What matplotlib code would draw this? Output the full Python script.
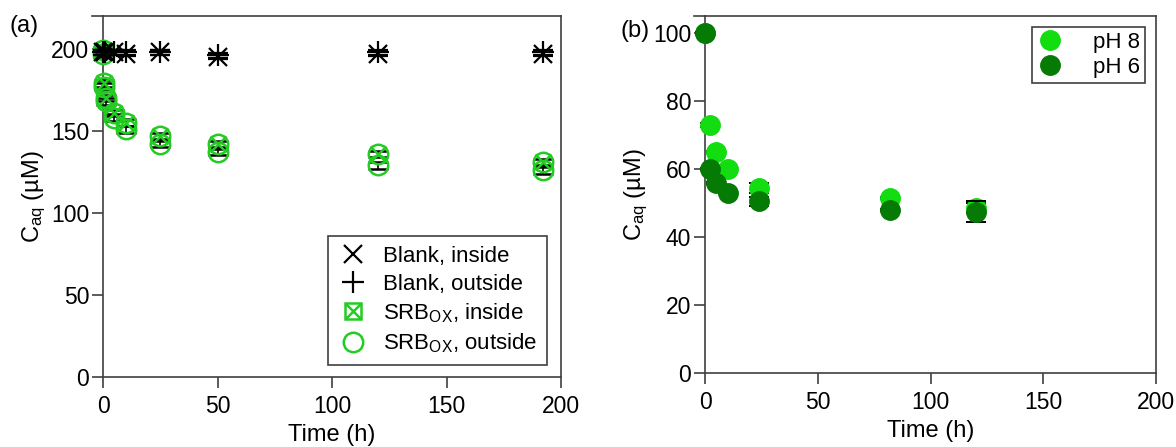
import matplotlib
matplotlib.use('Agg')
import matplotlib.pyplot as plt
from matplotlib.legend_handler import HandlerTuple
from matplotlib.lines import Line2D

plt.rcParams['font.family'] = ['Liberation Sans', 'DejaVu Sans']
plt.rcParams['mathtext.fontset'] = 'custom'
plt.rcParams['mathtext.rm'] = 'Liberation Sans'
plt.rcParams['mathtext.it'] = 'Liberation Sans:italic'
plt.rcParams['font.size'] = 16

# panel (a) data
t_blank = [0, 1, 5, 10, 25, 50, 120, 192]
blank_in = [198, 198, 198, 197, 198, 195, 197, 197]
blank_in_err = [1.5, 1.5, 1.5, 1.5, 1.5, 1.5, 1.5, 1.5]
blank_out = [198, 198, 198, 198, 198, 196, 198, 198]
blank_out_err = [1.5, 1.5, 1.5, 1.5, 1.5, 1.5, 1.5, 1.5]

t_srb = [0, 0.5, 1.5, 5, 10, 25, 50, 120, 192]
srb_in = [199, 179, 170, 161, 155, 147, 142, 136, 131]
srb_in_err = [2, 2, 2, 2, 2, 2, 2, 2, 2]
srb_out = [197, 177, 168, 158, 151, 142, 137, 129, 126]
srb_out_err = [2, 2, 2, 2, 2, 2, 2, 2, 2]

# panel (b) data
t_ph = [0, 2, 5, 10, 24, 82, 120]
ph8 = [100, 73, 65, 60, 54.5, 51.5, 48.5]
ph8_err = [0.4, 0.5, 0.3, 0.3, 1.5, 0.3, 1.5]
ph6 = [100, 60, 56, 53, 50.5, 48, 47.5]
ph6_err = [0.4, 0.4, 0.3, 0.3, 1.3, 0.3, 3.0]

green = '#22cc22'
light = '#11dd11'
dark = '#057a05'
spine_c = '#404040'

fig = plt.figure(figsize=(11.76, 4.47), dpi=100)
ax1 = fig.add_axes([0.0876, 0.1566, 0.3895, 0.8076])
ax2 = fig.add_axes([0.5995, 0.1655, 0.3835, 0.7987])


def style(ax, xlim, ylim, yticks):
    ax.set_xlim(*xlim)
    ax.set_ylim(*ylim)
    ax.set_xticks([0, 50, 100, 150, 200])
    ax.set_yticks(yticks)
    for s in ax.spines.values():
        s.set_color(spine_c)
        s.set_linewidth(1.2)
    ax.tick_params(direction='out', length=8, width=1.2, color=spine_c,
                   labelsize=16.5, pad=2)
    ax.tick_params(axis='x', pad=5)
    ax.tick_params(right=False, top=False)
    # top frame line reaches past the left spine
    ax.plot([-0.025, 0], [1, 1], transform=ax.transAxes, color=spine_c,
            lw=1.2, clip_on=False)
    ax.set_xlabel('Time (h)', fontsize=17, labelpad=4)
    ax.set_ylabel(r'C$_{\rm aq}$ (µM)', fontsize=17, labelpad=2)


# (a)
eb = dict(ecolor='black', elinewidth=1.2, capsize=7, capthick=1.4, ls='none', clip_on=False)
ax1.errorbar(t_srb, srb_out, yerr=srb_out_err, marker='o', ms=14, mfc='none',
             mec=green, mew=1.8, zorder=3, **eb)
ax1.errorbar(t_srb, srb_in, yerr=srb_in_err, marker='o', ms=14, mfc='none',
             mec=green, mew=1.8, zorder=3, **eb)
ax1.plot(t_srb, srb_in, 'x', ms=12, mec=green, mew=1.8, ls='none', zorder=3, clip_on=False)
ax1.errorbar(t_blank, blank_in, yerr=blank_in_err, marker='x', ms=13, mec='black',
             mew=1.6, zorder=4, **eb)
ax1.errorbar(t_blank, blank_out, yerr=blank_out_err, marker='+', ms=16, mec='black',
             mew=1.6, zorder=4, **eb)
style(ax1, (0, 200), (0, 220), [0, 50, 100, 150, 200])

h_bi = Line2D([], [], marker='x', ms=13, mec='black', mew=1.6, ls='none')
h_bo = Line2D([], [], marker='+', ms=16, mec='black', mew=1.6, ls='none')
h_si = (Line2D([], [], marker='s', ms=11, mfc='none', mec=green, mew=1.8, ls='none'),
        Line2D([], [], marker='x', ms=11, mec=green, mew=1.8, ls='none'))
h_so = Line2D([], [], marker='o', ms=14, mfc='none', mec=green, mew=1.8, ls='none')
leg1 = ax1.legend([h_bi, h_bo, h_si, h_so],
                  ['Blank, inside', 'Blank, outside', r'SRB$_{\rm OX}$, inside',
                   r'SRB$_{\rm OX}$, outside'],
                  handler_map={tuple: HandlerTuple(ndivide=1, pad=0)},
                  loc='lower right', bbox_to_anchor=(0.969, 0.033), fontsize=16,
                  fancybox=False, edgecolor=spine_c, framealpha=1,
                  handlelength=1.3, handletextpad=0.7, labelspacing=0.3,
                  borderpad=0.45, borderaxespad=0)
leg1.get_frame().set_linewidth(1.2)
fig.text(0.008, 0.928, '(a)', fontsize=17)

# (b)
ax2.errorbar(t_ph, ph8, yerr=ph8_err, marker='o', ms=14, mfc=light, mec=light,
             zorder=3, **eb)
ax2.errorbar(t_ph, ph6, yerr=ph6_err, marker='o', ms=14, mfc=dark, mec=dark,
             zorder=4, **eb)
style(ax2, (0, 200), (0, 105), [0, 20, 40, 60, 80, 100])
h8 = Line2D([], [], marker='o', ms=14, mfc=light, mec=light, ls='none')
h6 = Line2D([], [], marker='o', ms=14, mfc=dark, mec=dark, ls='none')
leg2 = ax2.legend([h8, h6], ['pH 8', 'pH 6'], loc='upper right',
                  bbox_to_anchor=(0.976, 0.97), fontsize=16, fancybox=False,
                  edgecolor=spine_c, framealpha=1, handlelength=1.2,
                  handletextpad=1.3, labelspacing=0.15, borderpad=0.25,
                  borderaxespad=0)
leg2.get_frame().set_linewidth(1.2)
fig.text(0.528, 0.917, '(b)', fontsize=17)

fig.savefig('out.png', dpi=100)
